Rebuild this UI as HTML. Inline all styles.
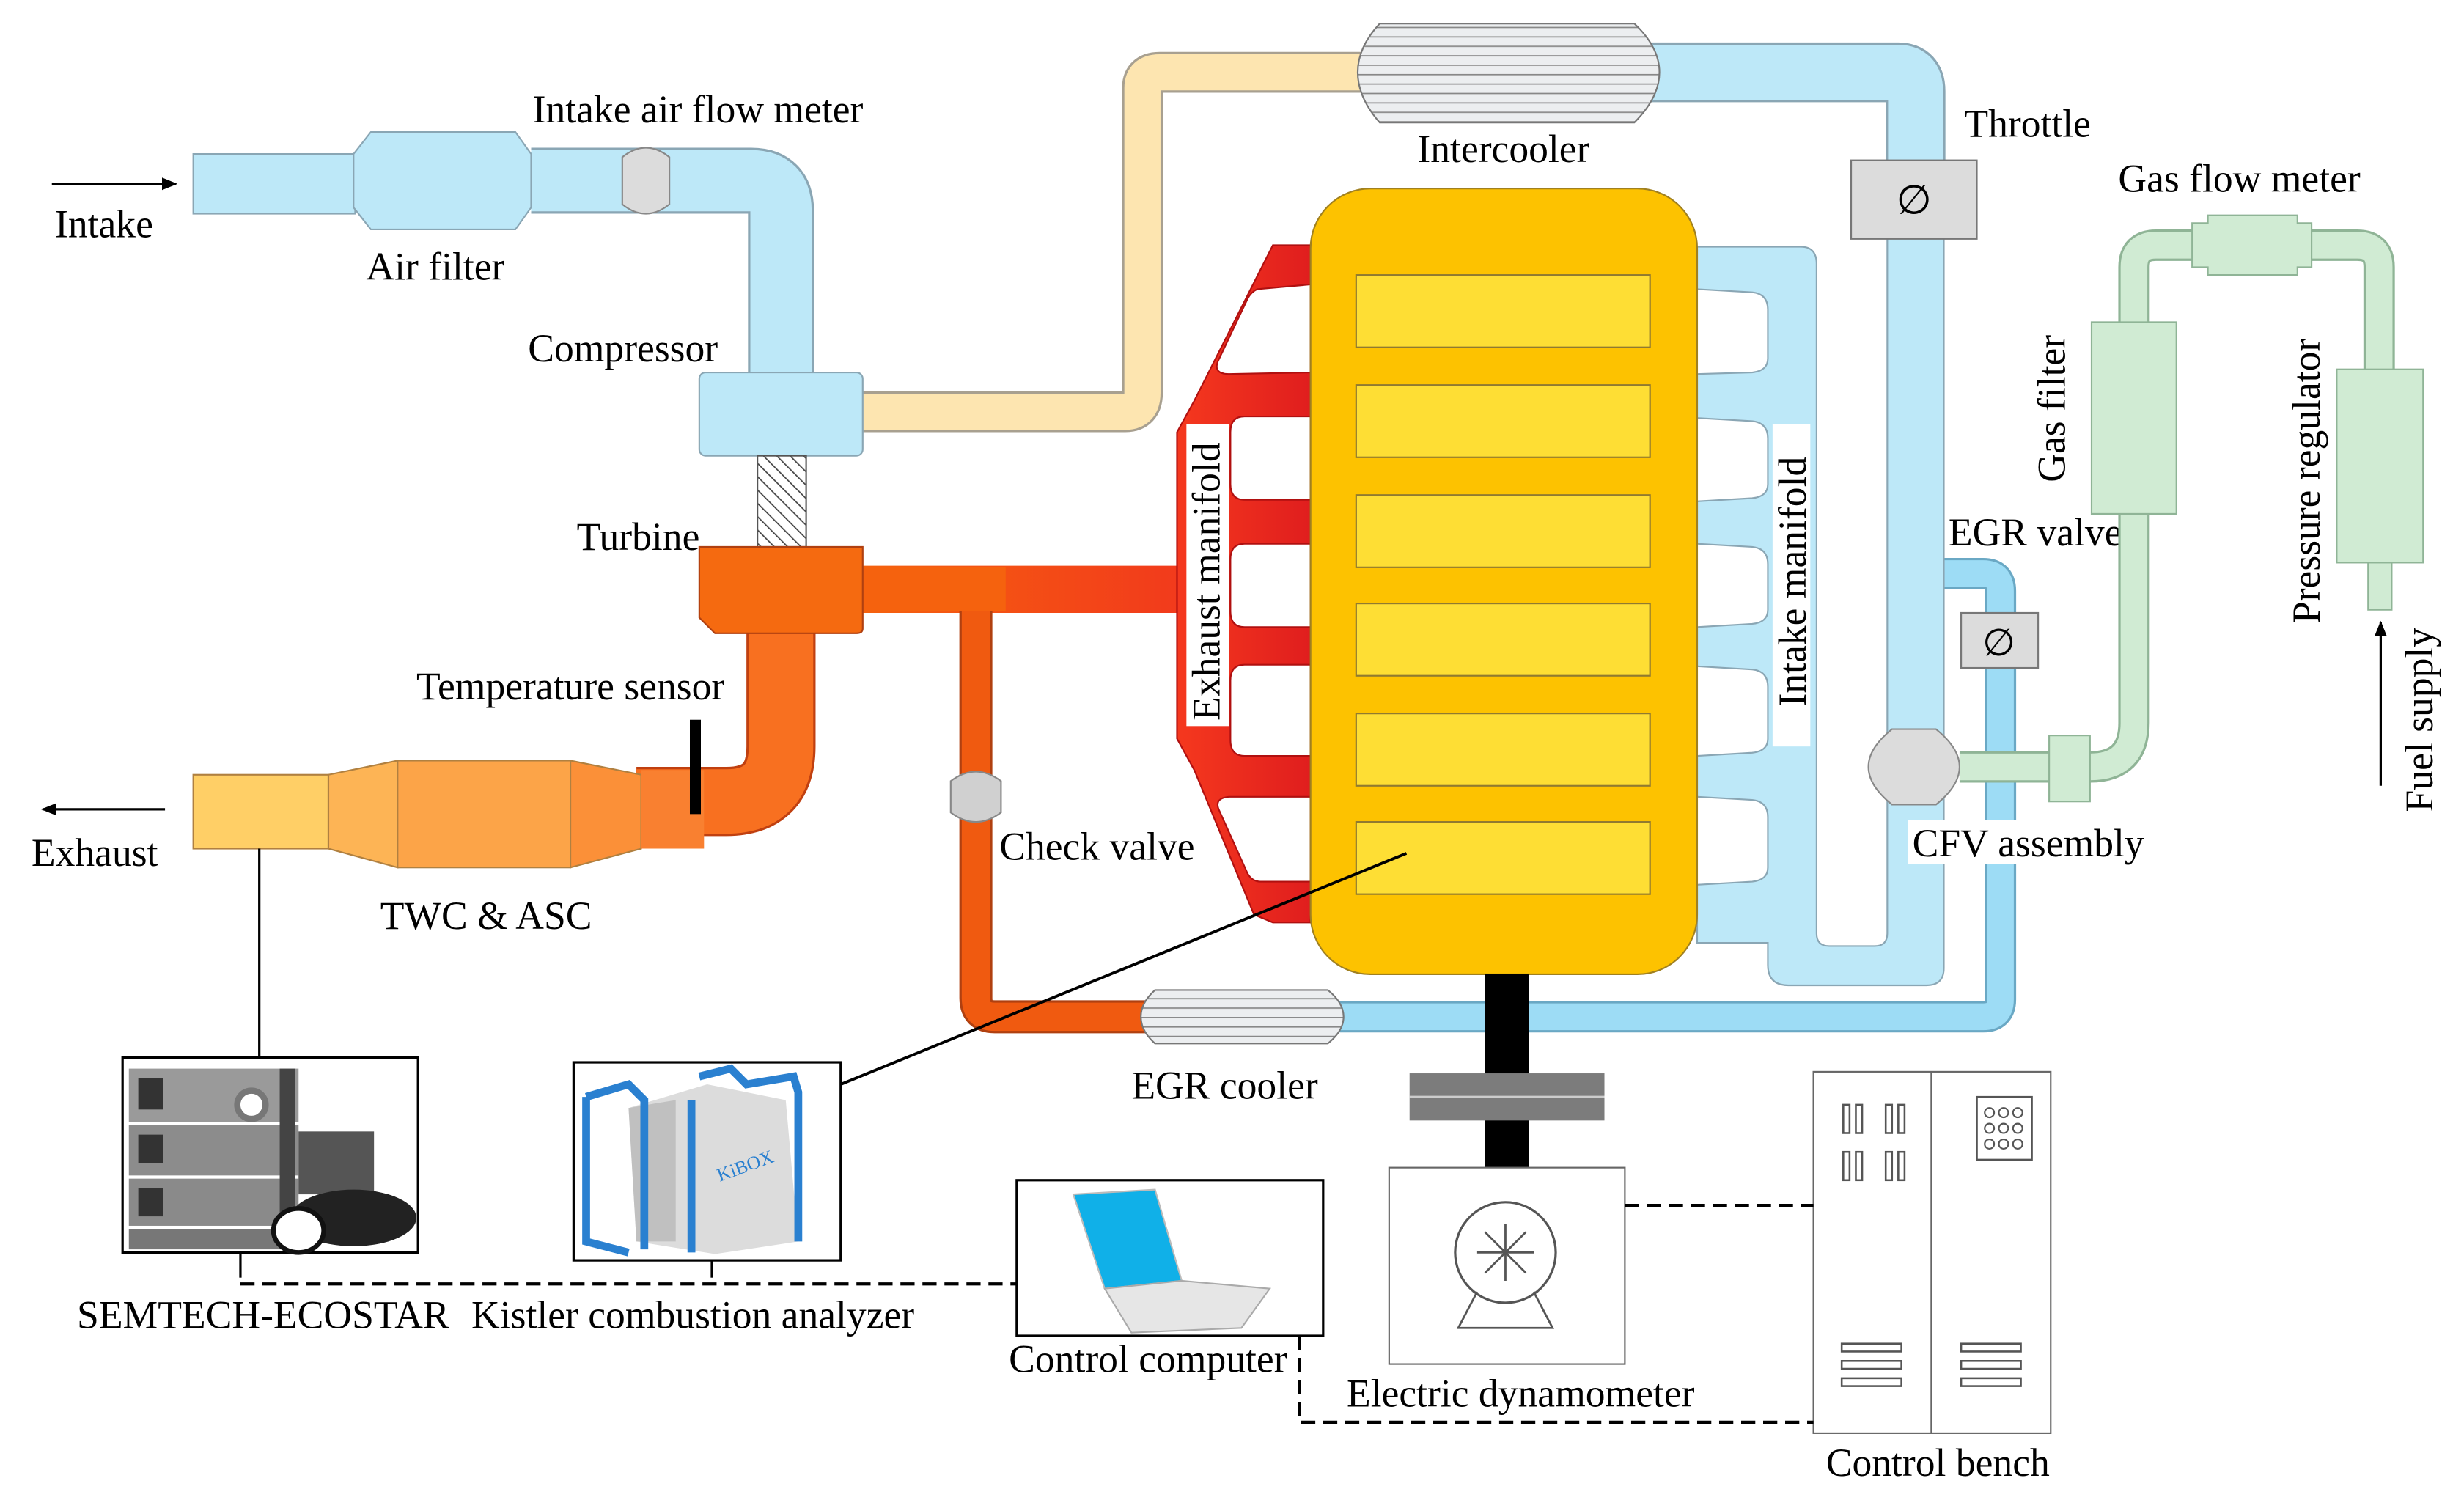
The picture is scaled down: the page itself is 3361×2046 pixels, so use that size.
<!DOCTYPE html>
<html><head><meta charset="utf-8"><style>
html,body{margin:0;padding:0;background:#fff;}
svg{display:block;}
text{font-family:"Liberation Serif",serif;font-size:25px;fill:#000;}
</style></head><body>
<svg width="3361" height="2046" viewBox="0 0 1568 954.5" preserveAspectRatio="none" xmlns="http://www.w3.org/2000/svg">
<defs>
<linearGradient id="red" x1="0" x2="1"><stop offset="0" stop-color="#f5381e"/><stop offset="1" stop-color="#e01e1e"/></linearGradient>
<linearGradient id="exh" gradientUnits="userSpaceOnUse" x1="549" y1="0" x2="752" y2="0"><stop offset="0" stop-color="#f5620e"/><stop offset="1" stop-color="#f23a1c"/></linearGradient>
<pattern id="hatch" width="6" height="6" patternUnits="userSpaceOnUse" patternTransform="rotate(-45)"><rect width="6" height="6" fill="#fff"/><line x1="0" y1="0" x2="0" y2="6" stroke="#444" stroke-width="1.6"/></pattern>
<pattern id="fins" width="10" height="6" patternUnits="userSpaceOnUse"><rect width="10" height="6" fill="#eceef0"/><line x1="0" y1="5.5" x2="10" y2="5.5" stroke="#888" stroke-width="0.8"/></pattern>
<marker id="ah" markerWidth="10" markerHeight="8" refX="9" refY="4" orient="auto" markerUnits="userSpaceOnUse"><path d="M0,0 L10,4 L0,8 z" fill="#000"/></marker>
</defs>

<line x1="33" y1="117" x2="112" y2="117" stroke="#000" stroke-width="1.5" marker-end="url(#ah)"/>
<text x="35" y="151">Intake</text>

<path d="M338,115 H478 Q497,115 497,134 V240" fill="none" stroke="#8aa6b4" stroke-width="42"/>
<path d="M338,115 H478 Q497,115 497,134 V240" fill="none" stroke="#bde8f8" stroke-width="39"/>
<rect x="123" y="98" width="103" height="38" fill="#bde8f8" stroke="#8aa6b4"/>
<polygon points="225,98 236,84 328,84 338,98 338,132 328,146 236,146 225,132" fill="#bde8f8" stroke="#8aa6b4"/>
<path d="M396,100 Q411,88 426,100 V130 Q411,142 396,130 Z" fill="#dcdcdc" stroke="#888"/>
<text x="339" y="78">Intake air flow meter</text>
<text x="233" y="178">Air filter</text>
<text x="336" y="230">Compressor</text>

<path d="M549,262 H716 Q727,262 727,250 V56 Q727,46 738,46 H870" fill="none" stroke="#a8a090" stroke-width="26"/>
<path d="M549,262 H716 Q727,262 727,250 V56 Q727,46 738,46 H870" fill="none" stroke="#fde5b0" stroke-width="23"/>
<path d="M1050,46 H1208 Q1219,46 1219,58 V105" fill="none" stroke="#8aa6b4" stroke-width="38"/>
<path d="M1050,46 H1208 Q1219,46 1219,58 V105" fill="none" stroke="#bde8f8" stroke-width="35"/>
<path d="M878,15 H1040 Q1056,30 1056,46 Q1056,62 1040,78 H878 Q864,62 864,46 Q864,30 878,15 Z" fill="url(#fins)" stroke="#777"/>
<text x="902" y="103">Intercooler</text>

<rect x="445" y="237" width="104" height="53" rx="4" fill="#bde8f8" stroke="#8aa6b4"/>
<rect x="482" y="290" width="31" height="58" fill="url(#hatch)" stroke="#555"/>

<path d="M1219,365 H1262 Q1273,365 1273,376 V636 Q1273,647 1262,647 H850" fill="none" stroke="#6aa8c4" stroke-width="20"/>
<path d="M1219,365 H1262 Q1273,365 1273,376 V636 Q1273,647 1262,647 H850" fill="none" stroke="#9ddcf5" stroke-width="17"/>

<path d="M1080,157 H1146 Q1156,157 1156,168 V594 Q1156,602 1164,602 H1193 Q1201,602 1201,594 V150 H1237 V616 Q1237,627 1226,627 H1138 Q1125,627 1125,614 V600 H1080 Z" fill="#bde8f8" stroke="#8aa6b4"/>
<g fill="#fff" stroke="#8aa6b4">
<path d="M1080,184 L1115,186 Q1125,187 1125,197 V228 Q1125,236 1115,237 L1080,238"/>
<path d="M1080,266 L1115,268 Q1125,269 1125,279 V308 Q1125,316 1115,317 L1080,319"/>
<path d="M1080,346 L1115,348 Q1125,349 1125,359 V388 Q1125,396 1115,397 L1080,399"/>
<path d="M1080,424 L1115,426 Q1125,427 1125,437 V470 Q1125,478 1115,479 L1080,481"/>
<path d="M1080,507 L1115,509 Q1125,510 1125,520 V552 Q1125,560 1115,561 L1080,563"/>
</g>
<rect x="1128" y="270" width="24" height="205" fill="#fff"/>
<text transform="translate(1149,370) rotate(-90)" text-anchor="middle">Intake manifold</text>

<rect x="1178" y="102" width="80" height="50" fill="#dcdcdc" stroke="#777"/>
<text x="1218" y="136" text-anchor="middle" style="font-size:26px">∅</text>
<text x="1250" y="87">Throttle</text>

<rect x="1248" y="390" width="49" height="35" fill="#dcdcdc" stroke="#777"/>
<text x="1272" y="417" text-anchor="middle" style="font-size:24px">∅</text>
<text x="1240" y="347">EGR valve</text>

<path d="M1247,488 H1330 Q1358,488 1358,460 V170 Q1358,156 1372,156 H1500 Q1514,156 1514,170 V240" fill="none" stroke="#8fb496" stroke-width="20"/>
<path d="M1247,488 H1330 Q1358,488 1358,460 V170 Q1358,156 1372,156 H1500 Q1514,156 1514,170 V240" fill="none" stroke="#d0ebd3" stroke-width="17"/>
<rect x="1304" y="468" width="26" height="42" fill="#d0ebd3" stroke="#8fb496"/>
<polygon points="1395,142 1405,142 1405,137 1462,137 1462,142 1471,142 1471,170 1462,170 1462,175 1405,175 1405,170 1395,170" fill="#d0ebd3" stroke="#8fb496"/>
<rect x="1331" y="205" width="54" height="122" fill="#d0ebd3" stroke="#8fb496"/>
<rect x="1487" y="235" width="55" height="123" fill="#d0ebd3" stroke="#8fb496"/>
<rect x="1507" y="358" width="15" height="30" fill="#d0ebd3" stroke="#8fb496"/>
<text x="1348" y="122">Gas flow meter</text>
<text transform="translate(1314,260) rotate(-90)" text-anchor="middle">Gas filter</text>
<text transform="translate(1476,306) rotate(-90)" text-anchor="middle">Pressure regulator</text>
<line x1="1515" y1="500" x2="1515" y2="396" stroke="#000" stroke-width="1.5" marker-end="url(#ah)"/>
<text transform="translate(1548,458) rotate(-90)" text-anchor="middle">Fuel supply</text>

<path d="M1204,464 H1232 Q1247,476 1247,488 Q1247,500 1232,512 H1204 Q1189,500 1189,488 Q1189,476 1204,464 Z" fill="#dcdcdc" stroke="#888"/>
<rect x="1214" y="522" width="152" height="28" fill="#fff"/>
<text x="1217" y="545">CFV assembly</text>

<!-- Exhaust horizontal pipe -->
<path d="M549,375 H752" fill="none" stroke="url(#exh)" stroke-width="30"/>

<polygon points="810,156 834,156 834,587 810,587 798,582 760,490 749,470 749,275 760,255" fill="url(#red)" stroke="#b01010"/>
<g fill="#fff" stroke="#b01010">
<path d="M834,181 L800,184 Q796,186 794,190 L775,230 Q772,238 782,238 L834,237 Z"/>
<path d="M834,265 H792 Q783,265 783,275 V308 Q783,318 792,318 H834 Z"/>
<path d="M834,346 H792 Q783,346 783,356 V389 Q783,399 792,399 H834 Z"/>
<path d="M834,423 H792 Q783,423 783,433 V471 Q783,481 792,481 H834 Z"/>
<path d="M834,507 L782,507 Q772,508 776,516 L794,556 Q797,561 802,561 L834,561 Z"/>
</g>
<rect x="755" y="270" width="27" height="192" fill="#fff"/>
<text transform="translate(776,370) rotate(-90)" text-anchor="middle">Exhaust manifold</text>

<rect x="834" y="120" width="246" height="500" rx="38" fill="#fdc200" stroke="#a08020"/>
<g fill="#fede34" stroke="#907a30">
<rect x="863" y="175" width="187" height="46"/>
<rect x="863" y="245" width="187" height="46"/>
<rect x="863" y="315" width="187" height="46"/>
<rect x="863" y="384" width="187" height="46"/>
<rect x="863" y="454" width="187" height="46"/>
<rect x="863" y="523" width="187" height="46"/>
</g>

<path d="M621,375 V635 Q621,647 633,647 H730" fill="none" stroke="#b04010" stroke-width="21"/>
<path d="M621,375 V635 Q621,647 633,647 H730" fill="none" stroke="#f05a10" stroke-width="18"/>
<path d="M549,375 H640" fill="none" stroke="#f5620e" stroke-width="28"/>
<path d="M605,497 Q621,485 637,497 V517 Q621,529 605,517 Z" fill="#d0d0d0" stroke="#888"/>
<text x="636" y="547">Check valve</text>

<path d="M497,400 V475 Q497,510 462,510 H405" fill="none" stroke="#c04010" stroke-width="44"/>
<path d="M497,400 V475 Q497,510 462,510 H405" fill="none" stroke="#f87020" stroke-width="41"/>
<path d="M445,348 H549 V400 Q549,403 545,403 H455 L445,393 Z" fill="#f56a10" stroke="#b04010"/>
<text x="367" y="350">Turbine</text>

<rect x="123" y="493" width="86" height="47" fill="#ffcf66" stroke="#b08040"/>
<polygon points="209,493 253,484 253,552 209,540" fill="#fdb455" stroke="#b08040"/>
<rect x="253" y="484" width="110" height="68" fill="#fca448" stroke="#b08040"/>
<polygon points="363,484 408,493 408,540 363,552" fill="#fb9038" stroke="#b08040"/>
<rect x="408" y="490" width="40" height="50" fill="#f98030" stroke="none"/>
<rect x="439" y="458" width="7" height="60" fill="#000"/>
<text x="265" y="445">Temperature sensor</text>
<text x="242" y="591">TWC &amp; ASC</text>
<line x1="105" y1="515" x2="27" y2="515" stroke="#000" stroke-width="1.5" marker-end="url(#ah)"/>
<text x="20" y="551">Exhaust</text>

<path d="M735,630 H845 Q855,638 855,647 Q855,656 845,664 H735 Q726,656 726,647 Q726,638 735,630 Z" fill="url(#fins)" stroke="#777"/>
<text x="720" y="699">EGR cooler</text>

<rect x="945" y="620" width="28" height="125" fill="#000"/>
<rect x="897" y="683" width="124" height="30" fill="#7c7c7c"/>
<line x1="897" y1="698" x2="1021" y2="698" stroke="#ccc" stroke-width="1.5"/>
<rect x="884" y="743" width="150" height="125" fill="#fff" stroke="#666"/>
<circle cx="958" cy="797" r="32" fill="#fff" stroke="#555" stroke-width="1.5"/>
<path d="M940,797 H976 M958,779 V815 M945,784 L971,810 M971,784 L945,810" stroke="#555" stroke-width="1.3"/>
<path d="M940,822 L928,845 H988 L976,822" fill="none" stroke="#555" stroke-width="1.3"/>
<text x="857" y="895">Electric dynamometer</text>

<rect x="1154" y="682" width="151" height="230" fill="#fff" stroke="#666"/>
<line x1="1229" y1="682" x2="1229" y2="912" stroke="#666"/>
<g fill="none" stroke="#555" stroke-width="1.2">
<rect x="1173" y="703" width="4" height="18"/><rect x="1181" y="703" width="4" height="18"/>
<rect x="1200" y="703" width="4" height="18"/><rect x="1208" y="703" width="4" height="18"/>
<rect x="1173" y="733" width="4" height="18"/><rect x="1181" y="733" width="4" height="18"/>
<rect x="1200" y="733" width="4" height="18"/><rect x="1208" y="733" width="4" height="18"/>
<rect x="1258" y="698" width="35" height="40"/>
<rect x="1172" y="855" width="38" height="5"/><rect x="1172" y="866" width="38" height="5"/><rect x="1172" y="877" width="38" height="5"/>
<rect x="1248" y="855" width="38" height="5"/><rect x="1248" y="866" width="38" height="5"/><rect x="1248" y="877" width="38" height="5"/>
</g>
<g fill="none" stroke="#555" stroke-width="1"><circle cx="1266" cy="708" r="3"/><circle cx="1275" cy="708" r="3"/><circle cx="1284" cy="708" r="3"/><circle cx="1266" cy="718" r="3"/><circle cx="1275" cy="718" r="3"/><circle cx="1284" cy="718" r="3"/><circle cx="1266" cy="728" r="3"/><circle cx="1275" cy="728" r="3"/><circle cx="1284" cy="728" r="3"/></g>
<text x="1162" y="939">Control bench</text>

<line x1="165" y1="540" x2="165" y2="673" stroke="#000" stroke-width="1.5"/>
<line x1="895" y1="543" x2="535" y2="690" stroke="#000" stroke-width="1.8"/>
<g stroke="#000" stroke-width="2" fill="none" stroke-dasharray="9,5">
<path d="M153,817 H647"/>
<path d="M827,850 V905 H1154"/>
<path d="M1034,767 H1154"/>
</g>
<line x1="153" y1="797" x2="153" y2="813" stroke="#000" stroke-width="1.5"/>
<line x1="453" y1="802" x2="453" y2="813" stroke="#000" stroke-width="1.5"/>

<rect x="78" y="673" width="188" height="124" fill="#fff" stroke="#000" stroke-width="1.5"/>
<rect x="82" y="680" width="108" height="34" fill="#9a9a9a"/><rect x="82" y="716" width="108" height="32" fill="#8c8c8c"/>
<rect x="82" y="750" width="108" height="30" fill="#8a8a8a"/><rect x="82" y="782" width="108" height="13" fill="#777"/>
<rect x="88" y="686" width="16" height="20" fill="#333"/><rect x="88" y="722" width="16" height="18" fill="#333"/><rect x="88" y="756" width="16" height="18" fill="#333"/>
<rect x="178" y="680" width="10" height="110" fill="#444"/>
<rect x="190" y="720" width="48" height="40" fill="#555"/>
<ellipse cx="225" cy="775" rx="40" ry="18" fill="#222"/><ellipse cx="190" cy="783" rx="16" ry="14" fill="#fff" stroke="#111" stroke-width="3"/>
<circle cx="160" cy="703" r="9" fill="#fff" stroke="#777" stroke-width="4"/>

<rect x="365" y="676" width="170" height="126" fill="#fff" stroke="#000" stroke-width="1.5"/>
<polygon points="400,705 450,690 500,700 508,790 455,798 405,790" fill="#dcdcdc"/>
<polygon points="400,705 430,700 430,790 405,790" fill="#c0c0c0"/>
<path d="M373,698 L400,690 L410,700 L410,795 M373,698 V790 L400,797 M445,685 L465,680 L475,690 L505,685 L508,695 V790 M440,700 V797" fill="none" stroke="#2a80d0" stroke-width="5"/>
<text x="458" y="752" style="font-size:12px;fill:#2a80d0" transform="rotate(-20 458 752)">KiBOX</text>

<rect x="647" y="751" width="195" height="99" fill="#fff" stroke="#000" stroke-width="1.5"/>
<polygon points="683,760 735,757 752,815 703,820" fill="#10b0e8" stroke="#bbb"/>
<polygon points="703,820 752,815 808,820 790,845 720,848" fill="#e6e6e6" stroke="#aaa"/>

<text x="49" y="845">SEMTECH-ECOSTAR</text>
<text x="300" y="845">Kistler combustion analyzer</text>
<text x="642" y="873">Control computer</text>
</svg>
</body></html>
